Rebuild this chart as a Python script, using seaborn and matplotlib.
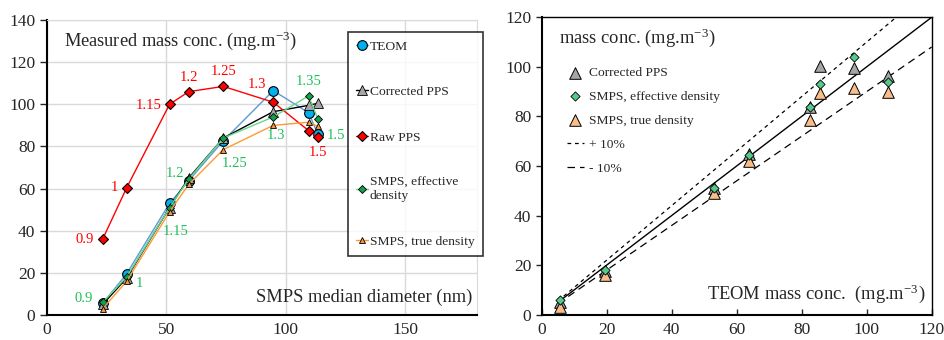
import seaborn as sns
import numpy as np
import matplotlib.pyplot as plt
from matplotlib.ticker import MultipleLocator

# data
diameter = [23.3, 33.3, 51.3, 59.3, 73.8, 94.7, 109.5, 113.4]
teom = [5.5, 19.5, 53.0, 63.7, 82.7, 106.5, 96.0, 85.8]
corrected_pps = [5.0, 17.5, 51.0, 65.0, 84.0, 96.5, 99.5, 100.5]
raw_pps = [36.0, 60.3, 100.0, 106.0, 108.5, 101.0, 87.5, 84.5]
smps_eff = [6.0, 18.0, 51.0, 64.5, 84.0, 94.0, 104.0, 93.0]
smps_true = [3.0, 16.0, 49.0, 62.0, 78.5, 90.0, 91.5, 89.5]
density = ["0.9", "1", "1.15", "1.2", "1.25", "1.3", "1.35", "1.5"]
raw_label_idx = [0, 1, 2, 3, 4, 5, 7]

# label offsets (points) for the density annotations
green_off = [(-14, 2.5), (9.6, -4.3), (4.5, -17), (-10, 4.3), (8.4, -18.7), (2, -13.7), (0, 10), (13, -11.5)]
red_off = {0: (-12.7, 0), 1: (-9, 0), 2: (-15, -1), 3: (0, 10.5), 4: (0, 11), 5: (-11.7, 13), 7: (0, -11.5)}

sns.set_style("white")
plt.rcParams['font.family'] = ['Liberation Serif', 'DejaVu Serif']
plt.rcParams['mathtext.fontset'] = 'stix'

fig = plt.figure(figsize=(9.44, 3.40), dpi=100)
ax1 = fig.add_axes([0.0498, 0.0735, 0.4555, 0.8676])
ax2 = fig.add_axes([0.5738, 0.0744, 0.4131, 0.8747])

# ---- left chart
red = "#ff0000"
green_txt = "#1fbf5a"
sns.lineplot(x=diameter, y=teom, ax=ax1, sort=False, color="#5b9bd5", lw=1,
             marker="o", markersize=7, markerfacecolor="#00b0f0", markeredgecolor="k",
             markeredgewidth=0.8, label="TEOM")
sns.lineplot(x=diameter, y=corrected_pps, ax=ax1, sort=False, color="black", lw=1,
             marker="^", markersize=7.5, markerfacecolor="#a6a6a6", markeredgecolor="k",
             markeredgewidth=0.6, label="Corrected PPS")
sns.lineplot(x=diameter, y=raw_pps, ax=ax1, sort=False, color=red, lw=1,
             marker="D", markersize=5.5, markerfacecolor=red, markeredgecolor="k",
             markeredgewidth=0.8, label="Raw PPS")
sns.lineplot(x=diameter, y=smps_eff, ax=ax1, sort=False, color="#66d98c", lw=1,
             marker="D", markersize=4, markerfacecolor="#14a04a", markeredgecolor="k",
             markeredgewidth=0.6, label="SMPS, effective\ndensity")
sns.lineplot(x=diameter, y=smps_true, ax=ax1, sort=False, color="#ff9933", lw=1,
             marker="^", markersize=5, markerfacecolor="#f7963d", markeredgecolor="k",
             markeredgewidth=0.6, label="SMPS, true density")

for i, (dx, dy) in enumerate(green_off):
    ax1.annotate(density[i], (diameter[i], smps_eff[i]), xytext=(dx, dy),
                 textcoords="offset points", ha="center", va="center",
                 color=green_txt, fontsize=10.5)
for i in raw_label_idx:
    dx, dy = red_off[i]
    ax1.annotate(density[i], (diameter[i], raw_pps[i]), xytext=(dx, dy),
                 textcoords="offset points", ha="center", va="center",
                 color=red, fontsize=10.5)

ax1.set_xlim(0, 180)
ax1.set_ylim(0, 140)
ax1.set_xticks([0, 50, 100, 150])
ax1.xaxis.set_minor_locator(MultipleLocator(10))
ax1.set_yticks(range(0, 141, 20))
ax1.grid(True, color="#d9d9d9", lw=1)
ax1.set_axisbelow(True)
ax1.tick_params(axis="x", which="both", direction="in", length=4, width=1, labelsize=12.5, pad=5)
ax1.tick_params(axis="y", direction="out", length=5, width=1, labelsize=12.5, left=True)
for s in ["left", "bottom"]:
    ax1.spines[s].set_color("black")
    ax1.spines[s].set_linewidth(1.5)
for s in ["top", "right"]:
    ax1.spines[s].set_color("#d9d9d9")
ax1.text(0.04, 0.93, "Measured mass conc. (mg.m$^{\\mathregular{-3}}$)", transform=ax1.transAxes,
         fontsize=13.2, va="center", ha="left")
ax1.text(0.99, 0.06, "SMPS median diameter (nm)", transform=ax1.transAxes,
         fontsize=13.3, va="center", ha="right")
ax1.set_xlabel("")
ax1.set_ylabel("")
leg = ax1.legend(loc="upper left", bbox_to_anchor=(0.70, 0.959), fontsize=9.7,
                 frameon=True, fancybox=False, edgecolor="black", labelspacing=2.45,
                 handlelength=0.9, handletextpad=0.12, borderpad=0.6, borderaxespad=0)
leg.get_frame().set_linewidth(1.2)

# ---- right chart
line_x = np.array([5.0, 120.0])
ax2.plot(line_x, line_x, color="black", lw=1)
ax2.plot(line_x, 1.1 * line_x, color="black", lw=0.9, ls=(0, (3, 3)), label="+ 10%")
ax2.plot(line_x, 0.9 * line_x, color="black", lw=0.9, ls=(0, (6, 4)), label="- 10%")
sns.scatterplot(x=teom, y=corrected_pps, ax=ax2, marker="^", s=70, color="#a6a6a6",
                edgecolor="black", linewidth=0.7, label="Corrected PPS", zorder=3)
sns.scatterplot(x=teom, y=smps_eff, ax=ax2, marker="D", s=22, color="#55c88a",
                edgecolor="black", linewidth=0.6, label="SMPS, effective density", zorder=4)
sns.scatterplot(x=teom, y=smps_true, ax=ax2, marker="^", s=70, color="#f9bd8a",
                edgecolor="black", linewidth=0.7, label="SMPS, true density", zorder=3)

ax2.set_xlim(0, 120)
ax2.set_ylim(0, 120)
ax2.set_xticks(range(0, 121, 20))
ax2.set_yticks(range(0, 121, 20))
ax2.tick_params(axis="x", direction="in", length=4, width=1, labelsize=12.5, pad=5, bottom=True)
ax2.tick_params(axis="y", direction="out", length=4, width=1, labelsize=12.5, left=True)
for s in ax2.spines.values():
    s.set_color("black")
    s.set_linewidth(1)
ax2.spines["left"].set_linewidth(1.5)
ax2.spines["bottom"].set_linewidth(1.5)
ax2.text(0.045, 0.93, "mass conc. (mg.m$^{\\mathregular{-3}}$)", transform=ax2.transAxes,
         fontsize=13.3, va="center", ha="left")
ax2.text(0.985, 0.07, "TEOM mass conc.  (mg.m$^{\\mathregular{-3}}$)", transform=ax2.transAxes,
         fontsize=13.3, va="center", ha="right")
ax2.set_xlabel("")
ax2.set_ylabel("")
h, l = ax2.get_legend_handles_labels()
order = [2, 3, 4, 0, 1]
ax2.legend([h[i] for i in order], [l[i] for i in order], loc="upper left",
           bbox_to_anchor=(0.05, 0.852), fontsize=9.7, frameon=False,
           labelspacing=0.85, handlelength=1.3, handletextpad=0.35, borderaxespad=0)

plt.savefig("out.png", dpi=100)
